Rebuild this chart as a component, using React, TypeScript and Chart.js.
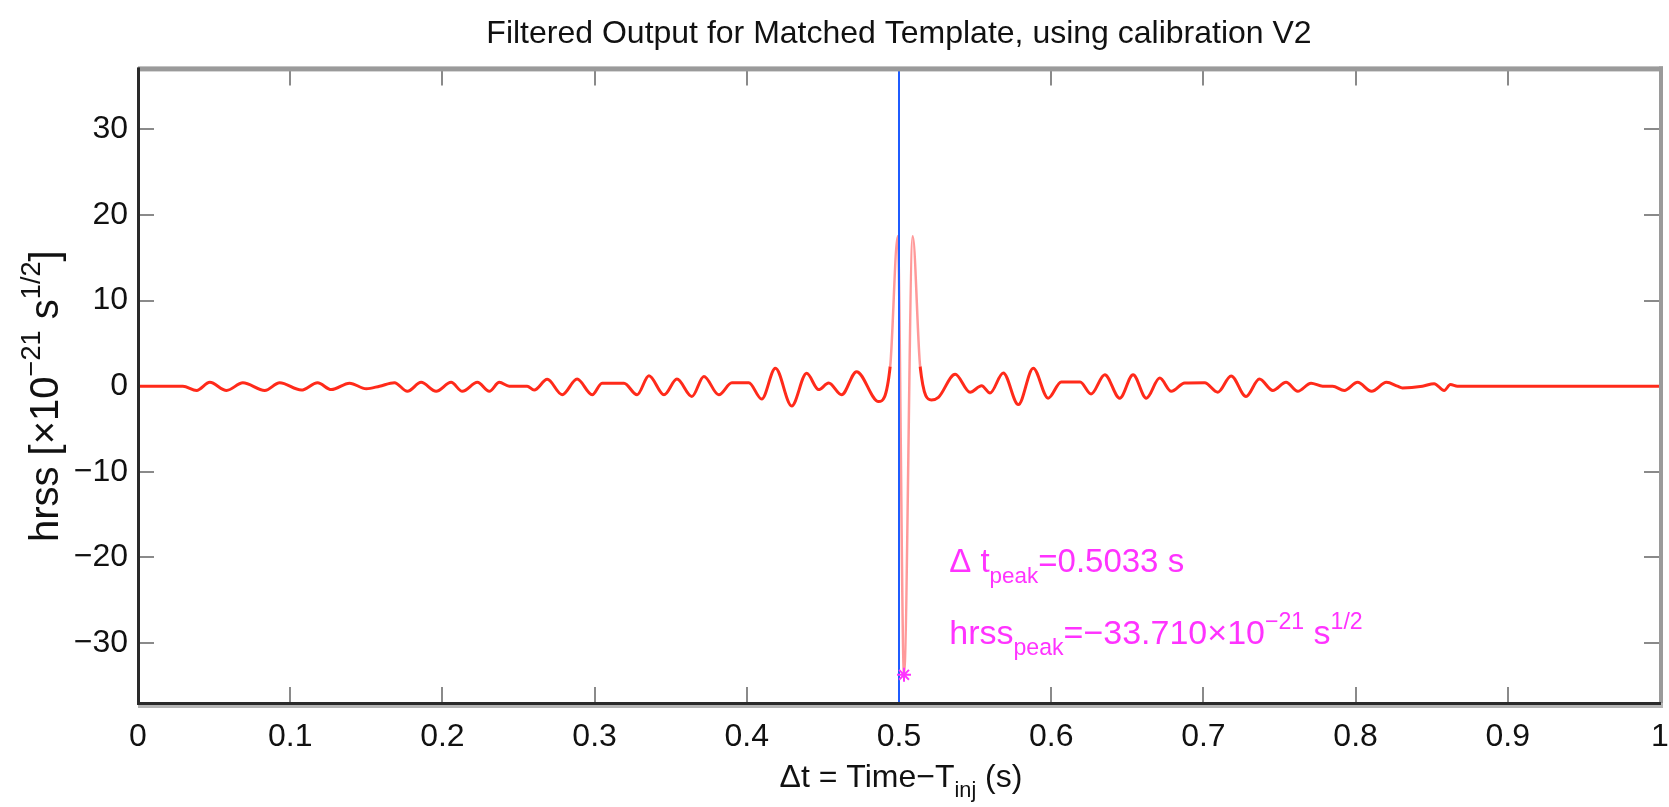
import React, { useEffect, useRef } from "react";
import { Chart, registerables } from "chart.js";

Chart.register(...registerables);

// ---- data ----
const timeValues = [
  0, 0.0295, 0.0385, 0.0472, 0.0582, 0.0689, 0.0833, 0.0931, 0.1073, 0.118,
  0.127, 0.139, 0.15, 0.1587, 0.1685, 0.177, 0.186, 0.1959, 0.2057, 0.2131,
  0.223, 0.2308, 0.2374, 0.2439, 0.2557, 0.2603, 0.2689, 0.2787, 0.2885, 0.2984,
  0.3049, 0.3193, 0.3279, 0.3357, 0.3456, 0.3541, 0.3639, 0.3718, 0.3816, 0.3902,
  0.4013, 0.4098, 0.4188, 0.4295, 0.4393, 0.4472, 0.4538, 0.4623, 0.4721, 0.4866,
  0.4942, 0.4992, 0.5033, 0.509, 0.5139, 0.5213, 0.5259, 0.5369, 0.5467, 0.5543,
  0.5598, 0.5685, 0.5784, 0.5882, 0.598, 0.6066, 0.619, 0.6262, 0.6352, 0.645,
  0.6538, 0.6625, 0.6713, 0.6789, 0.6877, 0.7008, 0.7095, 0.7182, 0.728, 0.7368,
  0.7456, 0.7543, 0.762, 0.7707, 0.7784, 0.7849, 0.7926, 0.8013, 0.8105, 0.8203,
  0.8275, 0.8308, 0.8439, 0.8516, 0.8582, 0.8623, 0.8669, 1,
];
const hrssValues = [
  0, 0, -0.5, 0.45, -0.5, 0.4, -0.5, 0.4, -0.45, 0.4,
  -0.4, 0.35, -0.3, 0, 0.4, -0.6, 0.45, -0.6, 0.45, -0.6,
  0.45, -0.6, 0.45, 0, 0, -0.45, 0.8, -1.0, 0.83, -1.0,
  0.35, 0.35, -1.0, 1.22, -1.0, 0.83, -1.2, 1.14, -1.0, 0.4,
  0.4, -1.5, 2.1, -2.3, 1.5, -0.4, 0.37, -1.0, 1.7, -1.8,
  2.3, 17.5, -33.71, 17.5, 2.3, -1.6, -1.3, 1.4, -0.7, 0.05,
  -0.8, 1.55, -2.15, 2.1, -1.4, 0.5, 0.5, -0.9, 1.34, -1.4,
  1.34, -1.4, 0.95, -0.6, 0.37, 0.4, -0.7, 1.2, -1.2, 0.83,
  -0.5, 0.45, -0.6, 0.35, 0, 0, -0.5, 0.45, -0.6, 0.45,
  0, -0.2, 0, 0.3, -0.5, 0.2, 0, 0,
];
const xTickValues = [0, 0.1, 0.2, 0.3, 0.4, 0.5, 0.6, 0.7, 0.8, 0.9, 1];
const xTickLabels = ["0", "0.1", "0.2", "0.3", "0.4", "0.5", "0.6", "0.7", "0.8", "0.9", "1"];
const yTickValues = [-30, -20, -10, 0, 10, 20, 30];
const yTickLabels = ["\u221230", "\u221220", "\u221210", "0", "10", "20", "30"];
const xRange = [0, 1];
const yRange = [-37, 37];
const injectionTime = 0.5;
const peakTime = 0.5033;
const peakHrss = -33.71;
const titleText = "Filtered Output for Matched Template, using calibration V2";

const FONT = "'Liberation Sans', Arial, Helvetica, sans-serif";

type Seg = { t: string; k?: "sub" | "sup" };

function richWidth(ctx: CanvasRenderingContext2D, segs: Seg[], size: number) {
  let w = 0;
  for (const s of segs) {
    const fs = s.k ? size * 0.68 : size;
    ctx.font = `${fs}px ${FONT}`;
    w += ctx.measureText(s.t).width;
  }
  return w;
}

function drawRich(ctx: CanvasRenderingContext2D, segs: Seg[], x: number, y: number, size: number) {
  let cx = x;
  ctx.textBaseline = "alphabetic";
  ctx.textAlign = "left";
  for (const s of segs) {
    const fs = s.k ? size * 0.68 : size;
    ctx.font = `${fs}px ${FONT}`;
    const dy = s.k === "sup" ? -size * 0.45 : s.k === "sub" ? size * 0.32 : 0;
    ctx.fillText(s.t, cx, y + dy);
    cx += ctx.measureText(s.t).width;
  }
}

const framePlugin = {
  id: "matlabFrame",
  beforeDatasetsDraw(chart: any) {
    const { ctx, chartArea, scales } = chart;
    const { left, right, top, bottom } = chartArea;
    const xs = scales.x;
    const ys = scales.y;
    ctx.save();
    ctx.strokeStyle = "#8a8a8a";
    ctx.lineWidth = 2;
    const tl = 16;
    ctx.beginPath();
    for (const v of xTickValues) {
      const px = Math.round(xs.getPixelForValue(v));
      ctx.moveTo(px, bottom);
      ctx.lineTo(px, bottom - tl);
      ctx.moveTo(px, top);
      ctx.lineTo(px, top + tl);
    }
    for (const v of yTickValues) {
      const py = Math.round(ys.getPixelForValue(v));
      ctx.moveTo(left, py);
      ctx.lineTo(left + tl, py);
      ctx.moveTo(right, py);
      ctx.lineTo(right - tl, py);
    }
    ctx.stroke();
    ctx.restore();
  },
  afterDraw(chart: any) {
    const { ctx, chartArea, scales } = chart;
    const { left, right, top, bottom } = chartArea;
    const xs = scales.x;
    ctx.save();
    // frame
    ctx.fillStyle = "#9a9a9a";
    ctx.fillRect(left, top - 3, right - left + 3, 5);
    ctx.fillRect(right - 1, top - 3, 4, bottom - top + 8);
    ctx.fillStyle = "#b5b5b5";
    ctx.fillRect(left, bottom, right - left + 3, 5);
    ctx.fillStyle = "#2a2a2a";
    ctx.fillRect(left - 1, top - 2, 3, bottom - top + 4);
    ctx.fillRect(left - 1, bottom - 1, right - left + 2, 3);

    // x axis title
    ctx.fillStyle = "#111";
    const xSegs: Seg[] = [{ t: "\u0394t = Time\u2212T" }, { t: "inj", k: "sub" }, { t: " (s)" }];
    const xw = richWidth(ctx, xSegs, 32);
    drawRich(ctx, xSegs, (left + right) / 2 - xw / 2 + 2, 787, 32);

    // y axis title (rotated)
    const ySegs: Seg[] = [
      { t: "hrss [\u00d710" },
      { t: "\u221221", k: "sup" },
      { t: " s" },
      { t: "1/2", k: "sup" },
      { t: "]" },
    ];
    const ySize = 40;
    const yw = richWidth(ctx, ySegs, ySize);
    ctx.save();
    ctx.translate(58, (top + bottom) / 2 + 10);
    ctx.rotate(-Math.PI / 2);
    drawRich(ctx, ySegs, -yw / 2, 0, ySize);
    ctx.restore();

    // annotation
    ctx.fillStyle = "#ff33ff";
    const ax = xs.getPixelForValue(0.533);
    drawRich(ctx, [{ t: "\u0394 t" }, { t: "peak", k: "sub" }, { t: "=0.5033 s" }], ax, 572, 33);
    drawRich(
      ctx,
      [
        { t: "hrss" },
        { t: "peak", k: "sub" },
        { t: "=\u221233.710\u00d710" },
        { t: "\u221221", k: "sup" },
        { t: " s" },
        { t: "1/2", k: "sup" },
      ],
      ax,
      644,
      34
    );
    ctx.restore();
  },
};

export default function App() {
  const ref = useRef<HTMLCanvasElement | null>(null);
  useEffect(() => {
    if (!ref.current) return;
    const waveform = timeValues.map((t, i) => ({ x: t, y: hrssValues[i] }));
    const steep = (c: any) => Math.abs(c.p1.parsed.y - c.p0.parsed.y) > 10;
    const chart = new Chart(ref.current, {
      type: "line",
      data: {
        datasets: [
          {
            label: "peak",
            data: [{ x: peakTime, y: peakHrss }],
            showLine: false,
            pointStyle: "star",
            pointRadius: 7,
            pointBorderWidth: 2,
            borderColor: "#ff33ff",
            backgroundColor: "#ff33ff",
          },
          {
            label: "injection",
            data: [
              { x: injectionTime, y: yRange[0] },
              { x: injectionTime, y: yRange[1] },
            ],
            borderColor: "#1f5cff",
            borderWidth: 2,
            pointRadius: 0,
          },
          {
            label: "filtered",
            data: waveform,
            borderColor: "#ff2a1a",
            borderWidth: 3,
            pointRadius: 0,
            cubicInterpolationMode: "monotone",
            segment: {
              borderColor: (c: any) => (steep(c) ? "rgba(255,70,70,0.55)" : undefined),
              borderWidth: (c: any) => (steep(c) ? 2.5 : undefined),
            },
          },
        ],
      },
      options: {
        responsive: false,
        animation: false,
        events: [],
        layout: { padding: { left: 0, right: 6, top: 0, bottom: 0 } },
        plugins: {
          legend: { display: false },
          tooltip: { enabled: false },
          title: {
            display: true,
            fullSize: false,
            text: titleText,
            color: "#111",
            font: { family: FONT, size: 32, weight: "normal" },
            padding: { top: 15, bottom: 16 },
          },
        },
        scales: {
          x: {
            type: "linear",
            min: xRange[0],
            max: xRange[1],
            grid: { display: false, drawTicks: false },
            border: { display: false },
            afterBuildTicks: (s: any) => {
              s.ticks = xTickValues.map((v) => ({ value: v }));
            },
            afterFit: (s: any) => {
              s.height = 104;
              s.paddingLeft = 0;
              s.paddingRight = 0;
            },
            ticks: {
              autoSkip: false,
              maxRotation: 0,
              padding: 15,
              color: "#111",
              font: { family: FONT, size: 32 },
              callback: (v: any) => {
                const i = xTickValues.indexOf(Number(v));
                return i >= 0 ? xTickLabels[i] : "";
              },
            },
          },
          y: {
            type: "linear",
            min: yRange[0],
            max: yRange[1],
            grid: { display: false, drawTicks: false },
            border: { display: false },
            afterBuildTicks: (s: any) => {
              s.ticks = yTickValues.map((v) => ({ value: v }));
            },
            afterFit: (s: any) => {
              s.width = 138;
              s.paddingTop = 0;
              s.paddingBottom = 0;
            },
            ticks: {
              padding: 10,
              color: "#111",
              font: { family: FONT, size: 32 },
              callback: (v: any) => {
                const i = yTickValues.indexOf(Number(v));
                return i >= 0 ? yTickLabels[i] : "";
              },
            },
          },
        },
      },
      plugins: [framePlugin],
    } as any);
    return () => chart.destroy();
  }, []);
  return (
    <div style={{ position: "absolute", left: 0, top: 0, width: 1669, height: 807, background: "#fff" }}>
      <canvas ref={ref} width={1669} height={807} style={{ display: "block" }} />
    </div>
  );
}
